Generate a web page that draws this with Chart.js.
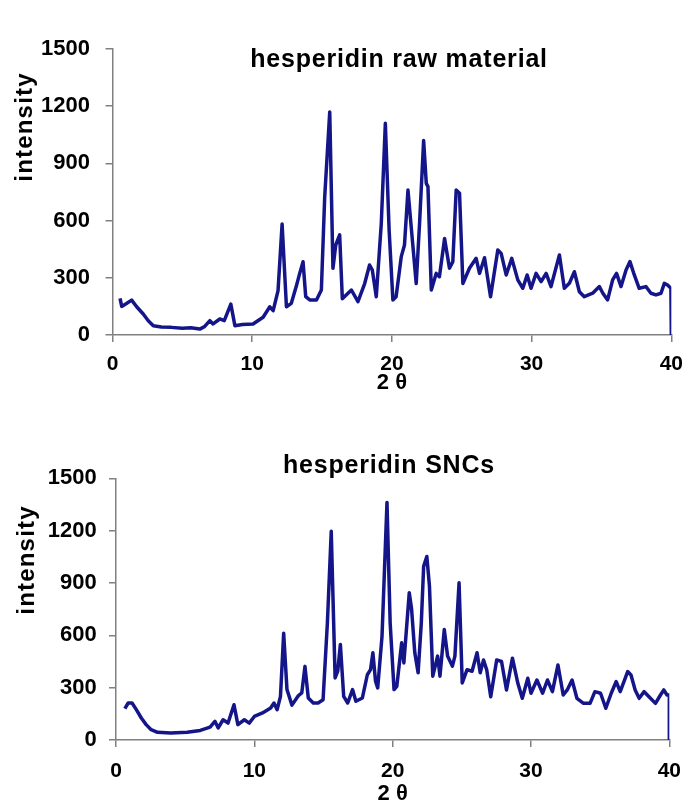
<!DOCTYPE html>
<html>
<head>
<meta charset="utf-8">
<title>hesperidin XRD</title>
<script src="https://cdn.jsdelivr.net/npm/chart.js@4.4.0/dist/chart.umd.min.js"></script>
<style>
  body { margin: 0; background: #fff; }
  #wrap { position: relative; width: 693px; height: 805px; overflow: hidden; font-family: "Liberation Sans", Arial, sans-serif; }
  canvas { position: absolute; left: 0; }
  .titulo { position: absolute; font-weight: bold; font-size: 25px; line-height: 25px; letter-spacing: 0.8px; white-space: nowrap; transform: translateX(-50%); color: #000; }
  .eixo-y { position: absolute; font-weight: bold; font-size: 24px; line-height: 24px; letter-spacing: 1.2px; white-space: nowrap; color: #000; transform: translate(-50%, -50%) rotate(-90deg); }
</style>
</head>
<body>
<div id="wrap">
  <canvas id="grafico-raw" width="693" height="400" style="top:0"></canvas>
  <canvas id="grafico-snc" width="693" height="400" style="top:405px"></canvas>
  <div class="titulo" style="left:399px; top:46px">hesperidin raw material</div>
  <div class="titulo" style="left:389px; top:452px">hesperidin SNCs</div>
  <div class="eixo-y" style="left:24px; top:127px">intensity</div>
  <div class="eixo-y" style="left:25.5px; top:560px">intensity</div>
</div>
<script>
// Eixos
const xTicks = [0, 10, 20, 30, 40];
const yTicks = [0, 300, 600, 900, 1200, 1500];

// Difratograma: materia-prima
const rawTheta = [0.54, 0.66, 1.0, 1.37, 1.73, 2.2, 2.56, 2.92, 3.5, 4.2, 5.0, 5.6, 6.25, 6.6, 6.97, 7.2, 7.68, 8.0, 8.47, 8.76,
  9.3, 10.06, 10.78, 11.26, 11.5, 11.85, 12.14, 12.45, 12.8, 13.17, 13.4, 13.64, 13.83, 14.12, 14.6, 14.95, 15.19, 15.55, 15.78, 15.98,
  16.26, 16.45, 17.1, 17.57, 18.05, 18.4, 18.6, 18.88, 19.24, 19.53, 19.8, 20.07, 20.3, 20.67, 20.9, 21.15, 21.4, 21.74, 21.98, 22.27,
  22.46, 22.58, 22.82, 23.17, 23.4, 23.77, 24.12, 24.36, 24.6, 24.84, 25.08, 25.55, 26.03, 26.27, 26.63, 27.06, 27.58, 27.82, 28.18, 28.58,
  29.01, 29.37, 29.68, 29.96, 30.32, 30.68, 31.04, 31.39, 31.99, 32.34, 32.7, 33.06, 33.42, 33.77, 34.37, 34.85, 35.1, 35.44, 35.8, 36.08,
  36.4, 36.76, 37.04, 37.35, 37.7, 38.18, 38.54, 38.9, 39.26, 39.5, 39.73, 39.97, 40.0];
const rawIntensity = [192, 150, 165, 183, 148, 110, 75, 49, 42, 40, 35, 38, 31, 45, 75, 58, 84, 75, 162, 49,
  55, 58, 93, 148, 128, 233, 582, 148, 166, 260, 323, 384, 201, 184, 184, 236, 725, 1170, 350, 472,
  525, 190, 236, 175, 270, 367, 340, 201, 586, 1110, 551, 184, 201, 411, 472, 760, 551, 270, 586, 1020,
  795, 778, 236, 323, 306, 506, 350, 384, 760, 743, 270, 350, 402, 323, 405, 201, 446, 428, 315, 402,
  289, 245, 315, 245, 323, 280, 323, 254, 420, 245, 271, 332, 227, 201, 219, 254, 219, 184, 289, 323,
  254, 341, 385, 315, 245, 254, 219, 210, 219, 271, 262, 245, 0];

// Difratograma: SNCs
const sncTheta = [0.64, 0.88, 1.16, 1.47, 1.83, 2.18, 2.54, 3.0, 3.96, 5.14, 6.09, 6.8, 7.15, 7.39, 7.74, 8.1, 8.53, 8.81, 9.28, 9.63,
  10.0, 10.59, 11.18, 11.42, 11.65, 11.89, 12.12, 12.36, 12.72, 13.19, 13.43, 13.66, 13.9, 14.26, 14.61, 14.97, 15.28, 15.56, 15.84, 16.03,
  16.22, 16.46, 16.75, 17.1, 17.34, 17.81, 18.17, 18.4, 18.57, 18.76, 18.92, 19.23, 19.59, 19.82, 20.1, 20.3, 20.65, 20.81, 21.2, 21.37,
  21.6, 21.84, 22.07, 22.24, 22.47, 22.66, 22.9, 23.25, 23.42, 23.73, 23.97, 24.32, 24.5, 24.8, 25.03, 25.38, 25.74, 26.1, 26.33, 26.57,
  26.8, 27.09, 27.52, 27.87, 28.23, 28.66, 29.05, 29.37, 29.77, 30.0, 30.43, 30.84, 31.19, 31.55, 31.95, 32.33, 32.62, 32.97, 33.32, 33.8,
  34.27, 34.62, 35.03, 35.41, 35.8, 36.16, 36.45, 36.99, 37.23, 37.53, 37.82, 38.18, 38.53, 39.0, 39.36, 39.6, 39.83, 40.0, 40.0];
const sncIntensity = [180, 212, 212, 174, 126, 88, 59, 44, 40, 44, 55, 74, 107, 69, 116, 97, 202, 88, 116, 97,
  135, 155, 183, 212, 174, 250, 612, 289, 200, 255, 270, 422, 241, 212, 212, 231, 670, 1196, 356, 395,
  548, 250, 212, 289, 222, 241, 374, 403, 500, 337, 299, 594, 1362, 670, 289, 308, 557, 442, 844, 749,
  500, 385, 670, 995, 1052, 882, 366, 481, 366, 633, 481, 423, 481, 901, 327, 403, 394, 500, 385, 459,
  402, 248, 459, 450, 287, 469, 325, 239, 354, 268, 344, 268, 344, 277, 430, 258, 287, 344, 239, 210,
  210, 277, 268, 182, 268, 335, 277, 392, 373, 287, 239, 277, 248, 210, 258, 287, 258, 258, 0];

const COR_LINHA = '#15158a';
const COR_EIXO = '#808080';

Chart.defaults.font.family = '"Liberation Sans", Arial, sans-serif';
Chart.defaults.color = '#000';

// Monta um grafico de linha xy com area de plotagem fixa
function montarGrafico(id, theta, intens, cfg) {
  const pontos = theta.map((t, i) => ({ x: t, y: intens[i] }));
  const ctx = document.getElementById(id).getContext('2d');
  return new Chart(ctx, {
    type: 'line',
    data: {
      datasets: [{
        data: pontos,
        borderColor: COR_LINHA,
        borderWidth: 3.5,
        borderJoinStyle: 'round',
        pointRadius: 0,
        tension: 0,
        fill: false
      }]
    },
    options: {
      responsive: false,
      animation: false,
      events: [],
      layout: { padding: { left: 0, top: cfg.topo, right: cfg.direita, bottom: 0 } },
      plugins: { legend: { display: false }, tooltip: { enabled: false } },
      scales: {
        x: {
          type: 'linear', min: 0, max: 40,
          afterBuildTicks: (ax) => { ax.ticks = xTicks.map((v) => ({ value: v })); },
          afterFit: (ax) => { ax.height = cfg.alturaX; },
          grid: { drawOnChartArea: false, tickLength: 7, color: COR_EIXO, lineWidth: 1.5 },
          border: { color: COR_EIXO, width: 1.5 },
          ticks: { autoSkip: false, maxRotation: 0, padding: cfg.padX, color: '#000', font: { size: 21, weight: 'bold' }, callback: (v) => String(v) },
          title: { display: true, text: '2 θ', color: '#000', font: { size: 22, weight: 'bold', lineHeight: 1 }, padding: { top: 0, bottom: cfg.padTitulo } }
        },
        y: {
          type: 'linear', min: 0, max: 1500,
          afterBuildTicks: (ax) => { ax.ticks = yTicks.map((v) => ({ value: v })); },
          afterFit: (ax) => { ax.width = cfg.larguraY; },
          grid: { drawOnChartArea: false, tickLength: 7, color: COR_EIXO, lineWidth: 1.5 },
          border: { color: COR_EIXO, width: 1.5 },
          ticks: { autoSkip: false, padding: cfg.padY, color: '#000', font: { size: 22, weight: 'bold' }, callback: (v) => String(v) }
        }
      }
    }
  });
}

montarGrafico('grafico-raw', rawTheta, rawIntensity,
  { topo: 49, direita: 21, alturaX: 65, larguraY: 112.5, padX: 10, padY: 15.5, padTitulo: 6.5 });
montarGrafico('grafico-snc', sncTheta, sncIntensity,
  { topo: 73.3, direita: 14, alturaX: 65, larguraY: 116, padX: 12, padY: 12.3, padTitulo: 0 });
</script>
</body>
</html>
